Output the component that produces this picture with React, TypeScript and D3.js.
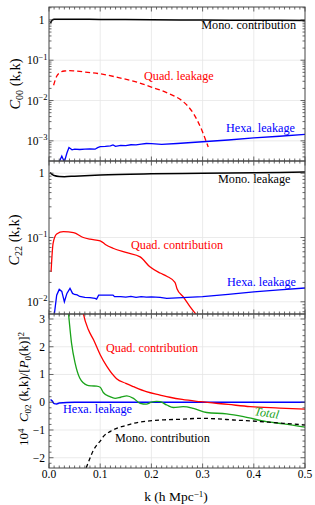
import React from "react";
import * as d3 from "d3";

// ---------- data ----------
const xTicks = [0, 0.1, 0.2, 0.3, 0.4, 0.5];
const xTickLabels = ["0.0", "0.1", "0.2", "0.3", "0.4", "0.5"];

// Panel 1: C00
const mono00K = [0.003, 0.006, 0.01, 0.02, 0.05, 0.1, 0.2, 0.3, 0.4, 0.5];
const mono00V = [0.83, 0.98, 1.04, 1.04, 1.04, 1.03, 1.01, 0.99, 0.98, 0.97];
const quad00K = [0.009, 0.015, 0.022, 0.03, 0.04, 0.05, 0.07, 0.1, 0.14, 0.17, 0.2, 0.236, 0.262, 0.282, 0.298, 0.311];
const quad00V = [0.024, 0.04, 0.05, 0.054, 0.055, 0.054, 0.051, 0.046, 0.036, 0.029, 0.0215, 0.0145, 0.0094, 0.0048, 0.0019, 0.0007];
const hexa00K = [0.02, 0.025, 0.03, 0.035, 0.039, 0.045, 0.05, 0.06, 0.07, 0.08, 0.09, 0.095, 0.1, 0.11, 0.12, 0.125, 0.13, 0.14, 0.15, 0.16, 0.17, 0.18, 0.19, 0.2, 0.22, 0.25, 0.3, 0.35, 0.4, 0.45, 0.5];
const hexa00V = [0.0003, 0.00042, 0.0003, 0.0005, 0.00068, 0.0006, 0.00062, 0.00061, 0.00062, 0.00063, 0.00062, 0.00068, 0.00072, 0.00073, 0.00075, 0.00079, 0.00073, 0.00077, 0.00076, 0.0008, 0.00079, 0.00083, 0.00086, 0.00085, 0.00082, 0.00086, 0.00095, 0.00105, 0.00118, 0.0013, 0.00145];

// Panel 2: C22
const mono22K = [0.002, 0.006, 0.01, 0.02, 0.03, 0.05, 0.1, 0.2, 0.3, 0.4, 0.5];
const mono22V = [1.02, 0.96, 0.92, 0.89, 0.885, 0.9, 0.94, 0.98, 1.0, 1.02, 1.04];
const quad22K = [0.004, 0.008, 0.015, 0.028, 0.048, 0.067, 0.08, 0.1, 0.11, 0.125, 0.152, 0.178, 0.197, 0.217, 0.23, 0.246, 0.25, 0.262, 0.275, 0.29];
const quad22V = [0.029, 0.081, 0.113, 0.123, 0.119, 0.1, 0.094, 0.089, 0.078, 0.068, 0.058, 0.05, 0.035, 0.028, 0.025, 0.02, 0.016, 0.012, 0.0085, 0.006];
const hexa22K = [0.01, 0.015, 0.02, 0.025, 0.03, 0.035, 0.041, 0.046, 0.05, 0.055, 0.06, 0.07, 0.08, 0.09, 0.093, 0.097, 0.11, 0.125, 0.128, 0.14, 0.15, 0.16, 0.17, 0.18, 0.19, 0.2, 0.217, 0.23, 0.25, 0.3, 0.35, 0.4, 0.45, 0.5];
const hexa22V = [0.006, 0.0127, 0.0156, 0.0145, 0.01, 0.0135, 0.0162, 0.0135, 0.013, 0.0128, 0.0121, 0.0117, 0.0116, 0.0113, 0.011, 0.0127, 0.0127, 0.0127, 0.012, 0.012, 0.0118, 0.0121, 0.0117, 0.012, 0.0118, 0.0119, 0.0117, 0.0113, 0.0115, 0.012, 0.013, 0.0143, 0.0153, 0.0164];

// Panel 3: 1e4 C02 / P0^2
const quad02K = [0.06, 0.067, 0.077, 0.087, 0.1, 0.113, 0.132, 0.15, 0.165, 0.19, 0.217, 0.236, 0.26, 0.295, 0.35, 0.393, 0.45, 0.5];
const quad02V = [4.0, 3.2, 2.61, 2.25, 1.71, 1.29, 0.85, 0.68, 0.56, 0.38, 0.26, 0.18, 0.1, 0.02, -0.08, -0.16, -0.21, -0.25];
const total02K = [0.03, 0.038, 0.044, 0.051, 0.06, 0.067, 0.074, 0.083, 0.093, 0.1, 0.106, 0.119, 0.129, 0.14, 0.152, 0.165, 0.178, 0.19, 0.2, 0.21, 0.217, 0.23, 0.243, 0.262, 0.282, 0.308, 0.347, 0.38, 0.425, 0.458, 0.5];
const total02V = [4.5, 3.2, 2.13, 1.41, 0.87, 0.7, 0.62, 0.59, 0.58, 0.54, 0.35, 0.2, 0.14, 0.18, 0.23, 0.14, -0.04, -0.07, 0.0, 0.03, 0.02, -0.1, -0.19, -0.16, -0.22, -0.37, -0.42, -0.52, -0.7, -0.78, -0.9];
const mono02K = [0.068, 0.075, 0.08, 0.087, 0.093, 0.1, 0.106, 0.12, 0.132, 0.15, 0.165, 0.197, 0.23, 0.262, 0.295, 0.33, 0.36, 0.393, 0.43, 0.458, 0.5];
const mono02V = [-2.6, -2.25, -2.02, -1.72, -1.55, -1.4, -1.24, -1.05, -0.94, -0.84, -0.76, -0.67, -0.63, -0.61, -0.58, -0.6, -0.64, -0.67, -0.72, -0.76, -0.82];
const hexa02K = [0.003, 0.006, 0.01, 0.015, 0.02, 0.05, 0.1, 0.2, 0.3, 0.4, 0.5];
const hexa02V = [0.1, 0.05, -0.05, -0.06, -0.03, 0, 0, 0, 0, 0, 0];

const lin3Ticks = [3, 2, 1, 0, -1, -2];
const lin3Labels = ["3", "2", "1", "0", "\u22121", "\u22122"];

// ---------- layout ----------
const X0 = 49, X1 = 305;
const FONT = "'Liberation Serif', 'DejaVu Serif', serif";
const GRID = "#e6e6e6";
const FRAME = "#444";
const LBL = 12.2;
const TICK = 11.5;

const x = d3.scaleLinear().domain([0, 0.5]).range([X0, X1]);
const y1 = d3.scaleLog().domain([Math.pow(10, -3.5), Math.pow(10, 0.32)]).range([161, 7]);
const y2 = d3.scaleLog().domain([Math.pow(10, -2.19), Math.pow(10, 0.19)]).range([314, 161]);
const y3 = d3.scaleLinear().domain([-2.37, 3.18]).range([468, 314]);

const zip = (k: number[], v: number[]) => k.map((kk, i) => [kk, v[i]] as [number, number]);

function path(k: number[], v: number[], ys: any, curve: any = d3.curveLinear) {
  return d3.line<[number, number]>().x(d => x(d[0])).y(d => ys(d[1])).curve(curve)(zip(k, v)) || "";
}

function Frame({ top, bottom, yMinor, yMajor }: { top: number; bottom: number; yMinor: number[]; yMajor: number[] }) {
  const xMinor = d3.range(0, 51).map(i => i / 100);
  return (
    <g>
      {xMinor.map((t, i) => {
        const major = i % 10 === 0;
        const L = major ? 4.5 : 2.5;
        return (
          <g key={"x" + i}>
            <line x1={x(t)} x2={x(t)} y1={bottom} y2={bottom - L} stroke={FRAME} strokeWidth={0.8} />
            <line x1={x(t)} x2={x(t)} y1={top} y2={top + L} stroke={FRAME} strokeWidth={0.8} />
          </g>
        );
      })}
      {yMinor.map((py, i) => (
        <g key={"ym" + i}>
          <line x1={X0} x2={X0 + 2.5} y1={py} y2={py} stroke={FRAME} strokeWidth={0.8} />
          <line x1={X1} x2={X1 - 2.5} y1={py} y2={py} stroke={FRAME} strokeWidth={0.8} />
        </g>
      ))}
      {yMajor.map((py, i) => (
        <g key={"yM" + i}>
          <line x1={X0} x2={X0 + 4.5} y1={py} y2={py} stroke={FRAME} strokeWidth={0.8} />
          <line x1={X1} x2={X1 - 4.5} y1={py} y2={py} stroke={FRAME} strokeWidth={0.8} />
        </g>
      ))}
      <rect x={X0} y={top} width={X1 - X0} height={bottom - top} fill="none" stroke={FRAME} strokeWidth={1} />
    </g>
  );
}

function logMinor(ys: any, lo: number, hi: number) {
  const out: number[] = [];
  for (let e = lo; e <= hi; e++) {
    for (let m = 2; m <= 9; m++) {
      const v = m * Math.pow(10, e);
      const [d0, d1] = ys.domain();
      if (v > d0 && v < d1) out.push(ys(v));
    }
  }
  return out;
}

function Grid({ top, bottom, ys }: { top: number; bottom: number; ys: number[] }) {
  return (
    <g>
      {[0.1, 0.2, 0.3, 0.4].map(t => (
        <line key={"gx" + t} x1={x(t)} x2={x(t)} y1={top} y2={bottom} stroke={GRID} strokeWidth={0.8} />
      ))}
      {ys.map((py, i) => (
        <line key={"gy" + i} x1={X0} x2={X1} y1={py} y2={py} stroke={GRID} strokeWidth={0.8} />
      ))}
    </g>
  );
}

function DecadeLabel({ y, e }: { y: number; e: number }) {
  if (e === 0) {
    return (
      <text x={44.5} y={y + 4} textAnchor="end" fontSize={TICK} fontFamily={FONT}>1</text>
    );
  }
  return (
    <text x={47.5} y={y + 4} textAnchor="end" fontSize={TICK} fontFamily={FONT}>
      10<tspan dy={-4.5} fontSize={8.5}>{"\u2212" + Math.abs(e)}</tspan>
    </text>
  );
}

export default function App() {
  const dec1 = [0, -1, -2, -3];
  const dec2 = [0, -1, -2];
  const y1Major = dec1.map(e => y1(Math.pow(10, e)));
  const y2Major = dec2.map(e => y2(Math.pow(10, e)));
  const y3Major = lin3Ticks.map(v => y3(v));
  const y3Minor = d3.range(-2.2, 3.2, 0.2).filter(v => Math.abs(v - Math.round(v)) > 0.05).map(v => y3(v));

  const txt = (s: string, xx: number, yy: number, color: string, extra: any = {}) => (
    <text x={xx} y={yy} fontSize={LBL} fontFamily={FONT} fill={color} {...extra}>{s}</text>
  );

  return (
    <svg width={315} height={505} style={{ position: "absolute", left: 0, top: 0, background: "#fff" }}>
      <defs>
        <clipPath id="c1"><rect x={X0} y={7} width={X1 - X0} height={154} /></clipPath>
        <clipPath id="c2"><rect x={X0} y={161} width={X1 - X0} height={153} /></clipPath>
        <clipPath id="c3"><rect x={X0} y={314} width={X1 - X0} height={154} /></clipPath>
      </defs>

      {/* Panel 1 */}
      <Grid top={7} bottom={161} ys={y1Major} />
      <g clipPath="url(#c1)" fill="none">
        <path d={path(mono00K, mono00V, y1, d3.curveMonotoneX)} stroke="#000" strokeWidth={1.5} />
        <path d={path(quad00K, quad00V, y1, d3.curveMonotoneX)} stroke="#ff0000" strokeWidth={1.3} strokeDasharray="5,3" />
        <path d={path(hexa00K, hexa00V, y1)} stroke="#0000ff" strokeWidth={1.3} />
      </g>
      <Frame top={7} bottom={161} yMinor={logMinor(y1, -4, 0)} yMajor={y1Major} />
      {dec1.map(e => <DecadeLabel key={"d1" + e} y={y1(Math.pow(10, e))} e={e} />)}
      {txt("Mono. contribution", 296, 29, "#000", { textAnchor: "end" })}
      {txt("Quad. leakage", 144, 80, "#ff0000")}
      {txt("Hexa. leakage", 226, 132, "#0000ff")}
      <text transform="translate(20,84) rotate(-90)" textAnchor="middle" fontSize={14.5} fontFamily={FONT}>
        <tspan fontStyle="italic">C</tspan><tspan dy={3} fontSize={10}>00</tspan><tspan dy={-3}> (k,k)</tspan>
      </text>

      {/* Panel 2 */}
      <Grid top={161} bottom={314} ys={y2Major} />
      <g clipPath="url(#c2)" fill="none">
        <path d={path(mono22K, mono22V, y2, d3.curveMonotoneX)} stroke="#000" strokeWidth={1.5} />
        <path d={path(quad22K, quad22V, y2, d3.curveMonotoneX)} stroke="#ff0000" strokeWidth={1.3} />
        <path d={path(hexa22K, hexa22V, y2)} stroke="#0000ff" strokeWidth={1.3} />
      </g>
      <Frame top={161} bottom={314} yMinor={logMinor(y2, -3, 0)} yMajor={y2Major} />
      {dec2.map(e => <DecadeLabel key={"d2" + e} y={y2(Math.pow(10, e))} e={e} />)}
      {txt("Mono. leakage", 218, 183, "#000")}
      {txt("Quad. contribution", 131, 249, "#ff0000")}
      {txt("Hexa. leakage", 227, 286, "#0000ff")}
      <text transform="translate(19,240) rotate(-90)" textAnchor="middle" fontSize={14.5} fontFamily={FONT}>
        <tspan fontStyle="italic">C</tspan><tspan dy={3} fontSize={10}>22</tspan><tspan dy={-3}> (k,k)</tspan>
      </text>

      {/* Panel 3 */}
      <Grid top={314} bottom={468} ys={y3Major} />
      <g clipPath="url(#c3)" fill="none">
        <path d={path(hexa02K, hexa02V, y3, d3.curveMonotoneX)} stroke="#0000ff" strokeWidth={1.5} />
        <path d={path(quad02K, quad02V, y3, d3.curveMonotoneX)} stroke="#ff0000" strokeWidth={1.3} />
        <path d={path(total02K, total02V, y3, d3.curveMonotoneX)} stroke="#1aa31a" strokeWidth={1.3} />
        <path d={path(mono02K, mono02V, y3, d3.curveMonotoneX)} stroke="#000" strokeWidth={1.3} strokeDasharray="4,3" />
      </g>
      <Frame top={314} bottom={468} yMinor={y3Minor} yMajor={y3Major} />
      {lin3Ticks.map((v, i) => (
        <text key={"l3" + i} x={45} y={y3(v) + 4} textAnchor="end" fontSize={TICK} fontFamily={FONT}>{lin3Labels[i]}</text>
      ))}
      {txt("Quad. contribution", 106, 352, "#ff0000")}
      {txt("Hexa. leakage", 63, 413, "#0000ff")}
      {txt("Mono. contribution", 115, 442, "#000")}
      <text transform="translate(254,415) rotate(9)" fontSize={LBL} fontFamily={FONT} fill="#1aa31a" fontStyle="italic">Total</text>
      <text transform="translate(28,389) rotate(-90)" textAnchor="middle" fontSize={13} fontFamily={FONT}>
        10<tspan dy={-4.5} fontSize={9}>4</tspan><tspan dy={4.5}>{"\u2002"}</tspan>
        <tspan fontStyle="italic">C</tspan><tspan dy={3} fontSize={9}>02</tspan><tspan dy={-3}> (k,k)/[</tspan>
        <tspan fontStyle="italic">P</tspan><tspan dy={3} fontSize={9}>0</tspan><tspan dy={-3}>(k)]</tspan>
        <tspan dy={-4.5} fontSize={9}>2</tspan>
      </text>

      {/* x axis */}
      {xTicks.map((t, i) => (
        <text key={"xt" + i} x={x(t)} y={478} textAnchor="middle" fontSize={TICK} fontFamily={FONT}>{xTickLabels[i]}</text>
      ))}
      <text x={176} y={501} textAnchor="middle" fontSize={13.5} fontFamily={FONT}>
        k (h Mpc<tspan dy={-4.5} fontSize={9}>{"\u22121"}</tspan><tspan dy={4.5}>)</tspan>
      </text>
    </svg>
  );
}
